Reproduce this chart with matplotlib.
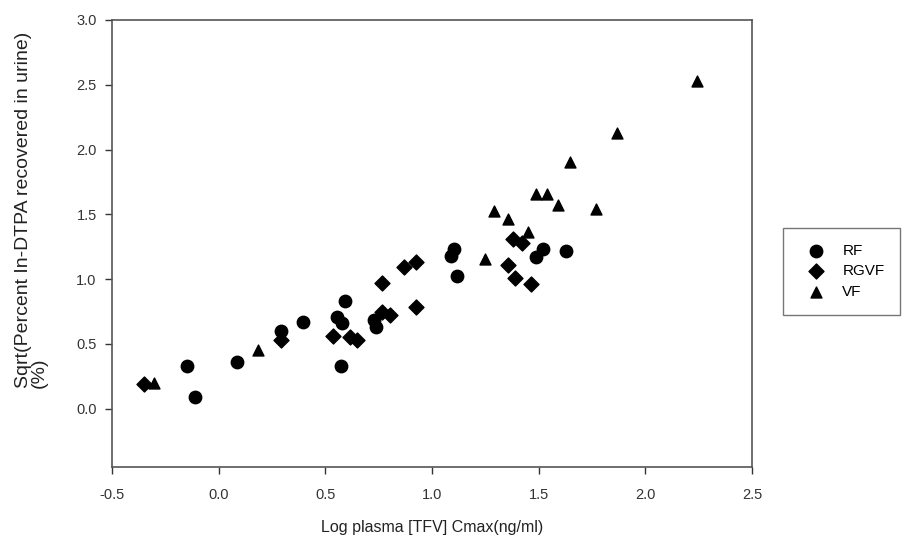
import matplotlib
matplotlib.use('Agg')
import matplotlib.pyplot as plt

plt.rcParams['font.family'] = ['Liberation Sans', 'DejaVu Sans']

# RF group (circles)
rf_x = [-0.148, -0.111, 0.086, 0.29, 0.395, 0.555, 0.578, 0.592, 0.573,
        0.728, 0.738, 1.09, 1.105, 1.117, 1.488, 1.52, 1.628]
rf_y = [0.33, 0.093, 0.36, 0.60, 0.67, 0.71, 0.66, 0.83, 0.33,
        0.687, 0.633, 1.18, 1.23, 1.02, 1.17, 1.23, 1.22]

# RGVF group (diamonds)
rgvf_x = [-0.35, 0.29, 0.536, 0.616, 0.648, 0.766, 0.766, 0.803, 0.87,
          0.925, 0.925, 1.356, 1.389, 1.464, 1.38, 1.42]
rgvf_y = [0.19, 0.53, 0.563, 0.555, 0.53, 0.97, 0.748, 0.725, 1.09,
          1.13, 0.787, 1.11, 1.01, 0.96, 1.31, 1.28]

# VF group (triangles)
vf_x = [-0.303, 0.184, 1.249, 1.291, 1.356, 1.45, 1.488, 1.539, 1.591,
        1.647, 1.769, 1.867, 2.242]
vf_y = [0.20, 0.455, 1.157, 1.528, 1.466, 1.366, 1.659, 1.659, 1.574,
        1.906, 1.543, 2.13, 2.53]

x_ticks = [-0.5, 0.0, 0.5, 1.0, 1.5, 2.0, 2.5]
y_ticks = [0.0, 0.5, 1.0, 1.5, 2.0, 2.5, 3.0]

fig = plt.figure(figsize=(9.07, 5.5), dpi=100)
ax = fig.add_axes([0.1235, 0.151, 0.7056, 0.8127])

ax.scatter(rf_x, rf_y, marker='o', s=80, c='black', label='RF')
ax.scatter(rgvf_x, rgvf_y, marker='D', s=58, c='black', label='RGVF')
ax.scatter(vf_x, vf_y, marker='^', s=62, c='black', label='VF')

ax.set_xlim(-0.5, 2.5)
ax.set_ylim(-0.45, 3.0)
ax.set_xticks(x_ticks)
ax.set_yticks(y_ticks)
ax.set_xticklabels(['%.1f' % v for v in x_ticks])
ax.set_yticklabels(['%.1f' % v for v in y_ticks])
ax.tick_params(direction='out', length=5, width=1, labelsize=10.5,
               colors='#333333')
ax.tick_params(axis='x', pad=10)
ax.tick_params(axis='y', pad=6)
for sp in ax.spines.values():
    sp.set_color('#555555')
    sp.set_linewidth(1.2)

ax.set_xlabel('Log plasma [TFV] Cmax(ng/ml)', fontsize=11.5, color='#222222',
              labelpad=13)
ax.set_ylabel('Sqrt(Percent In-DTPA recovered in urine)\n(%)', fontsize=14,
              color='#222222', multialignment='left', linespacing=0.9)
ax.yaxis.set_label_coords(-0.10, 0.575)

leg = ax.legend(loc='upper left', bbox_to_anchor=(0.863, 0.585),
                bbox_transform=fig.transFigure, borderaxespad=0,
                fancybox=False, fontsize=11, frameon=True,
                handletextpad=0.5, borderpad=1.0, labelspacing=0.45,
                handlelength=2.4, scatterpoints=1)
leg.get_frame().set_edgecolor('#555555')
leg.get_frame().set_linewidth(1.0)

plt.savefig('out.png')
